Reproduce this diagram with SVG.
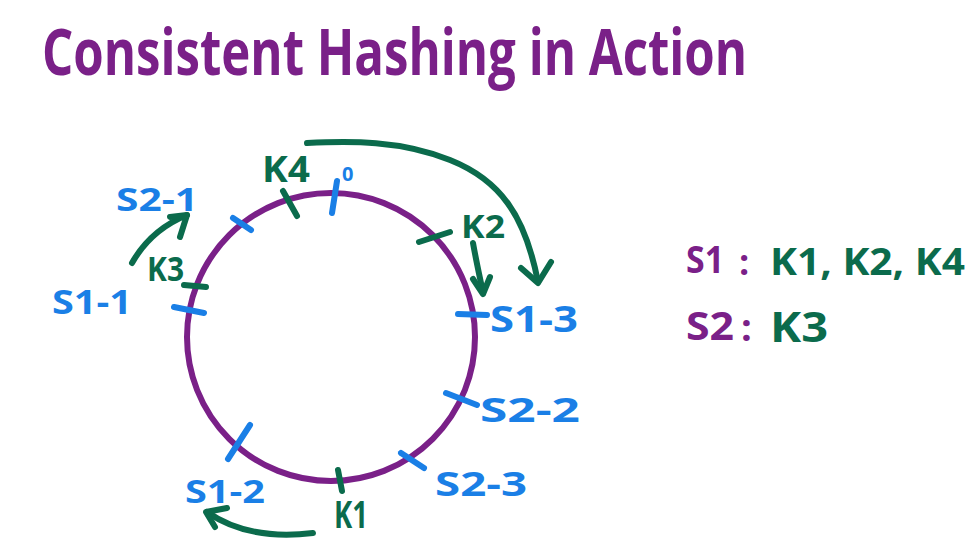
<svg xmlns="http://www.w3.org/2000/svg" width="975" height="554" viewBox="0 0 975 554">
<style>
.txt{font-family:"Open Sans","Noto Sans","Liberation Sans",sans-serif;font-weight:700}
.pur{fill:#7a2088}
.grn{fill:#0b6b4c}
.blu{fill:#1a7fe6}
.tickB{stroke:#1a7fe6;stroke-width:6;stroke-linecap:round;fill:none}
.tickG{stroke:#0b6b4c;stroke-width:6;stroke-linecap:round;fill:none}
.arr{stroke:#0b6b4c;stroke-width:6;stroke-linecap:round;stroke-linejoin:round;fill:none}
</style>
<rect width="975" height="554" fill="#ffffff"/>
<g id="title">
<text class="txt pur" x="42" y="75" font-size="64" font-weight="600" textLength="705" lengthAdjust="spacingAndGlyphs">Consistent Hashing in Action</text>
</g>
<g id="ring">
<circle cx="331" cy="337" r="144" fill="none" stroke="#7a2088" stroke-width="6"/>
</g>
<g id="connectors">
<path class="arr" d="M307,143 C350,141 400,140 450,160 C500,180 525,215 538,282"/>
<path class="arr" d="M521,268 L538,283 L551,262"/>
<path class="arr" d="M473,243 C476,260 480,278 483,293"/>
<path class="arr" d="M473,279 L483,294 L490,277"/>
<path class="arr" d="M132,263 C145,240 165,224 187,215"/>
<path class="arr" d="M170,217 L187,215 L180,237"/>
<path class="arr" d="M313,533 C280,537 240,535 207,512"/>
<path class="arr" d="M227,508 L206,512 L215,527"/>
</g>
<g id="node-0">
<line class="tickB" x1="332" y1="213" x2="337" y2="181"/>
<text class="txt blu" x="342" y="181" font-size="20">0</text>
</g>
<g id="node-K4">
<line class="tickG" x1="283" y1="191" x2="297" y2="216"/>
<text class="txt grn" x="262" y="182" font-size="36" textLength="48" lengthAdjust="spacingAndGlyphs">K4</text>
</g>
<g id="node-S2-1">
<line class="tickB" x1="233" y1="218" x2="251" y2="230"/>
<text class="txt blu" x="116" y="211" font-size="32" textLength="82" lengthAdjust="spacingAndGlyphs">S2-1</text>
</g>
<g id="node-K3">
<line class="tickG" x1="184" y1="285" x2="206" y2="287"/>
<text class="txt grn" x="147" y="281" font-size="34" textLength="37" lengthAdjust="spacingAndGlyphs">K3</text>
</g>
<g id="node-S1-1">
<line class="tickB" x1="174" y1="307" x2="204" y2="313"/>
<text class="txt blu" x="52" y="314" font-size="34" textLength="80" lengthAdjust="spacingAndGlyphs">S1-1</text>
</g>
<g id="node-K2">
<line class="tickG" x1="419" y1="242" x2="450" y2="232"/>
<text class="txt grn" x="461" y="238" font-size="32" textLength="44" lengthAdjust="spacingAndGlyphs">K2</text>
</g>
<g id="node-S1-3">
<line class="tickB" x1="458" y1="314" x2="487" y2="315"/>
<text class="txt blu" x="490" y="332" font-size="36" textLength="88" lengthAdjust="spacingAndGlyphs">S1-3</text>
</g>
<g id="node-S2-2">
<line class="tickB" x1="446" y1="393" x2="477" y2="405"/>
<text class="txt blu" x="480" y="422" font-size="34" textLength="100" lengthAdjust="spacingAndGlyphs">S2-2</text>
</g>
<g id="node-S2-3">
<line class="tickB" x1="401" y1="453" x2="424" y2="468"/>
<text class="txt blu" x="435" y="496" font-size="34" textLength="92" lengthAdjust="spacingAndGlyphs">S2-3</text>
</g>
<g id="node-S1-2">
<line class="tickB" x1="250" y1="425" x2="228" y2="459"/>
<text class="txt blu" x="185" y="503" font-size="32" textLength="80" lengthAdjust="spacingAndGlyphs">S1-2</text>
</g>
<g id="node-K1">
<line class="tickG" x1="338" y1="470" x2="342" y2="491"/>
<text class="txt grn" x="334" y="528" font-size="38" textLength="34" lengthAdjust="spacingAndGlyphs">K1</text>
</g>
<g id="legend">
<text class="txt pur" x="686" y="273" font-size="38" textLength="38" lengthAdjust="spacingAndGlyphs">S1</text>
<text class="txt pur" x="739" y="275" font-size="36">:</text>
<text class="txt grn" x="770" y="275" font-size="38" textLength="195" lengthAdjust="spacingAndGlyphs">K1, K2, K4</text>
<text class="txt pur" x="686" y="340" font-size="40" textLength="48" lengthAdjust="spacingAndGlyphs">S2</text>
<text class="txt pur" x="741" y="341" font-size="38">:</text>
<text class="txt grn" x="770" y="342" font-size="42" textLength="58" lengthAdjust="spacingAndGlyphs">K3</text>
</g>
</svg>
